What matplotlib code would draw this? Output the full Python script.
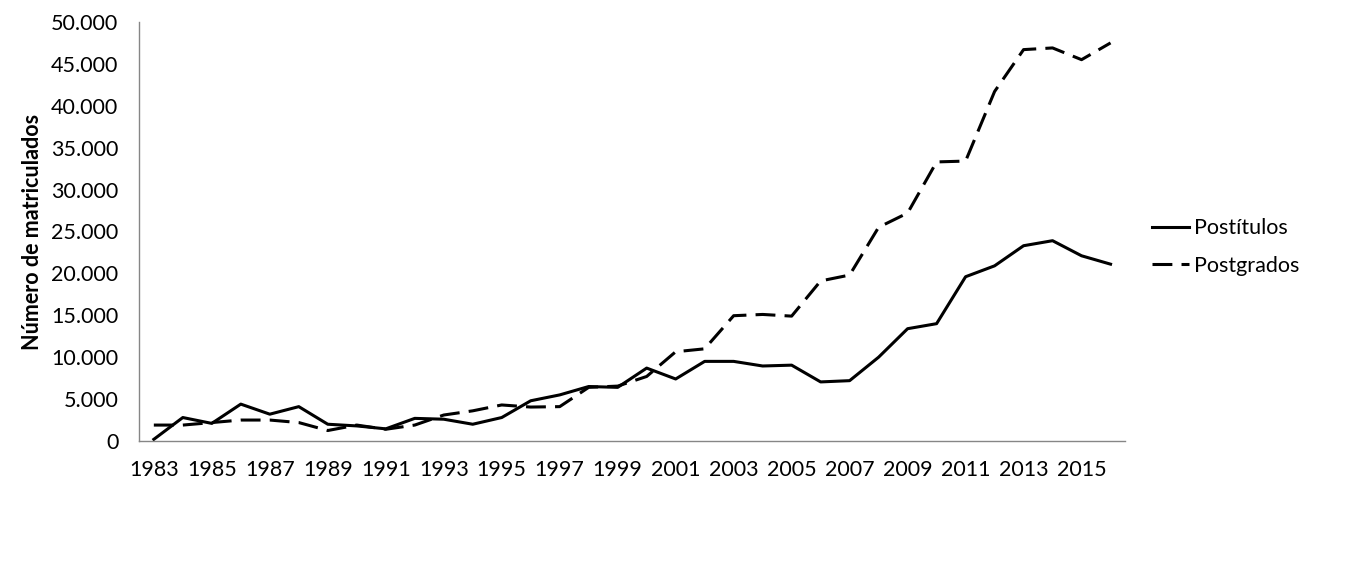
import matplotlib.pyplot as plt
from matplotlib.ticker import FuncFormatter

years = list(range(1983, 2017))

postitulos = [200, 2800, 2100, 4400, 3200, 4100, 2000, 1800, 1450, 2700,
              2600, 2000, 2800, 4800, 5500, 6500, 6400, 8700, 7400, 9500,
              9500, 8950, 9050, 7050, 7200, 10000, 13400, 14000, 19600, 20900,
              23300, 23900, 22100, 21100]

postgrados = [1900, 1900, 2200, 2500, 2500, 2200, 1250, 1900, 1400, 1900,
              3100, 3600, 4300, 4050, 4100, 6400, 6550, 7700, 10650, 11000,
              14950, 15100, 14900, 19100, 19800, 25500, 27200, 33300, 33400, 41700,
              46700, 46900, 45500, 47500]

plt.rcParams['font.family'] = ['Lato', 'DejaVu Sans']

fig = plt.figure(figsize=(13.66, 5.63), dpi=100)
ax = fig.add_axes([0.102, 0.2167, 0.7216, 0.7443])

ax.plot(years, postitulos, color='black', lw=2.2, label='Postítulos')
ax.plot(years, postgrados, color='black', lw=2.2, dashes=(6.5, 3), label='Postgrados')

ax.set_xlim(1982.5, 2016.5)
ax.set_ylim(0, 50000)
ax.set_yticks(range(0, 50001, 5000))
ax.yaxis.set_major_formatter(FuncFormatter(lambda v, p: f"{int(v):,}".replace(",", ".")))
ax.set_xticks(years[::2])

for s in ['top', 'right']:
    ax.spines[s].set_visible(False)
for s in ['left', 'bottom']:
    ax.spines[s].set_color('#868686')
    ax.spines[s].set_linewidth(1)

ax.tick_params(axis='both', length=0, labelsize=15.5)
ax.tick_params(axis='x', pad=14)
ax.tick_params(axis='y', pad=15)

ax.set_ylabel('Número de matriculados', fontsize=15.5, fontweight='bold', labelpad=6)

ax.legend(loc='center left', bbox_to_anchor=(1.008, 0.463), frameon=False,
          fontsize=15.5, handlelength=1.7, handletextpad=0.25, labelspacing=0.8)

fig.savefig('out.png', dpi=100)
